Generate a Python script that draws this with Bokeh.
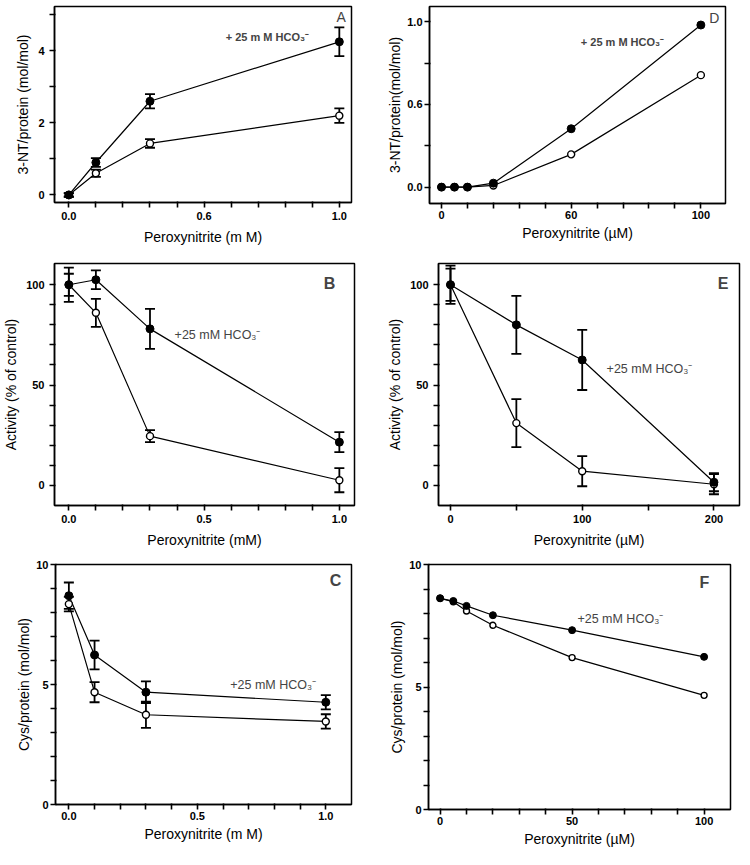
from bokeh.plotting import figure
from bokeh.models import Range1d, FixedTicker, Whisker, TeeHead, ColumnDataSource, Label
from bokeh.layouts import column, row
from bokeh.embed import file_html
from bokeh.resources import INLINE

# ---------------- data ----------------
# Panel A: 3-NT/protein vs peroxynitrite (mM)
A_x = [0.0, 0.1, 0.3, 1.0]
A_hco3 = [0.0, 0.9, 2.6, 4.25]
A_hco3_err = [0.05, 0.12, 0.2, 0.4]
A_ctrl = [0.0, 0.6, 1.43, 2.2]
A_ctrl_err = [0.05, 0.1, 0.12, 0.2]

# Panel D: 3-NT/protein vs peroxynitrite (uM)
D_x = [0, 5, 10, 20, 50, 100]
D_hco3 = [0.0, 0.0, 0.0, 0.024, 0.353, 0.98]
D_ctrl = [0.0, 0.0, 0.0, 0.01, 0.198, 0.677]

# Panel B: activity (% of control) vs peroxynitrite (mM)
B_x = [0.0, 0.1, 0.3, 1.0]
B_hco3 = [100, 102.5, 78, 21.5]
B_hco3_err = [5.5, 4.7, 10, 5]
B_ctrl = [100, 86, 24.5, 2.5]
B_ctrl_err = [8.5, 7, 3, 6]

# Panel E: activity (% of control) vs peroxynitrite (uM)
E_x = [0, 50, 100, 200]
E_hco3 = [100, 80, 62.5, 1.5]
E_hco3_err = [8, 14.5, 15, 4.5]
E_ctrl = [100, 31, 7, 0.5]
E_ctrl_err = [9.5, 12, 7.5, 5]

# Panel C: Cys/protein vs peroxynitrite (mM)
C_x = [0.0, 0.1, 0.3, 1.0]
C_hco3 = [8.7, 6.23, 4.68, 4.26]
C_hco3_err = [0.55, 0.6, 0.45, 0.3]
C_ctrl = [8.35, 4.68, 3.74, 3.46]
C_ctrl_err = [0.3, 0.42, 0.55, 0.3]

# Panel F: Cys/protein vs peroxynitrite (uM)
F_x = [0, 5, 10, 20, 50, 100]
F_hco3 = [8.62, 8.51, 8.31, 7.93, 7.32, 6.23]
F_ctrl = [8.62, 8.48, 8.1, 7.52, 6.2, 4.66]

# tick positions and labels as printed
A_xticks = [0.0, 0.5, 1.0]
A_xtick_labels = ["0.0", "0.6", "1.0"]
A_yticks = [0, 2, 4]
A_ytick_labels = ["0", "2", "4"]
D_xticks = [0, 50, 100]
D_xtick_labels = ["0", "60", "100"]
D_yticks = [0.0, 0.5, 1.0]
D_ytick_labels = ["0.0", "0.6", "1.0"]
B_xticks = [0.0, 0.5, 1.0]
B_xtick_labels = ["0.0", "0.5", "1.0"]
B_yticks = [0, 50, 100]
B_ytick_labels = ["0", "50", "100"]
E_xticks = [0, 100, 200]
E_xtick_labels = ["0", "100", "200"]
C_xticks = [0.0, 0.5, 1.0]
C_xtick_labels = ["0.0", "0.5", "1.0"]
C_yticks = [0, 5, 10]
C_ytick_labels = ["0", "5", "10"]
F_xticks = [0, 50, 100]
F_xtick_labels = ["0", "50", "100"]

ANN = "HCO\u2083\u207b"
FONT = "Liberation Sans"


def make_panel(x, yh, eh, yc, ec, xr, yr, xt, xlabels, xminor, yt, ylabels, yminor,
               xlab, ylab, borders, frame, letter, letter_xy, letter_style, ann, ann_xy,
               ann_style, marker_size=8, tight=False):
    bl, br, bt, bb = borders
    p = figure(frame_width=frame[0], frame_height=frame[1], output_backend="svg",
               toolbar_location=None, x_range=Range1d(*xr), y_range=Range1d(*yr),
               min_border_left=bl, min_border_right=br, min_border_top=bt,
               min_border_bottom=bb)
    p.xgrid.visible = False
    p.ygrid.visible = False
    p.outline_line_color = "black"
    p.outline_line_width = 1.5
    p.background_fill_color = "white"
    p.border_fill_color = "white"
    p.xaxis.ticker = FixedTicker(ticks=list(xt), minor_ticks=list(xminor))
    p.yaxis.ticker = FixedTicker(ticks=list(yt), minor_ticks=list(yminor))
    p.xaxis.major_label_overrides = {t: l for t, l in zip(xt, xlabels)}
    p.yaxis.major_label_overrides = {t: l for t, l in zip(yt, ylabels)}
    for ax in (p.xaxis[0], p.yaxis[0]):
        ax.axis_line_width = 1.5
        ax.axis_line_color = "black"
        ax.major_tick_in = 1
        ax.major_tick_out = 5
        ax.minor_tick_in = 1
        ax.minor_tick_out = 5
        ax.major_tick_line_width = 1.6
        ax.minor_tick_line_width = 1.6
        ax.major_tick_line_color = "#000000"
        ax.minor_tick_line_color = "#000000"
        ax.major_tick_line_alpha = 1.0
        ax.minor_tick_line_alpha = 1.0
        ax.major_label_text_font = FONT
        ax.major_label_text_font_style = "bold"
        ax.major_label_text_font_size = "11px"
        ax.major_label_text_color = "black"
        ax.axis_label_text_font = FONT
        ax.axis_label_text_font_style = "normal"
        ax.axis_label_text_font_size = "14px"
        ax.axis_label_text_color = "black"
    xa, ya = p.xaxis[0], p.yaxis[0]
    if tight:
        xa.major_label_standoff = 2
        xa.axis_label_standoff = 3
        ya.major_label_standoff = 2
        ya.axis_label_standoff = 1
    else:
        xa.major_label_standoff = 4
        xa.axis_label_standoff = 6
        ya.major_label_standoff = 5
        ya.axis_label_standoff = 4
    xa.axis_label = xlab
    ya.axis_label = ylab

    p.line(x, yc, line_color="black", line_width=1.2)
    p.line(x, yh, line_color="black", line_width=1.2)
    for yy, ee in ((yc, ec), (yh, eh)):
        if ee is None:
            continue
        src = ColumnDataSource(dict(x=x, upper=[a + b for a, b in zip(yy, ee)],
                                    lower=[a - b for a, b in zip(yy, ee)]))
        w = Whisker(source=src, base="x", upper="upper", lower="lower",
                    line_width=1.8, line_color="black",
                    upper_head=TeeHead(size=10, line_width=1.8, line_color="black"),
                    lower_head=TeeHead(size=10, line_width=1.8, line_color="black"))
        p.add_layout(w)
    p.scatter(x, yc, marker="circle", size=marker_size - 1, fill_color="white",
              line_color="black", line_width=1.4)
    p.scatter(x, yh, marker="circle", size=marker_size, fill_color="black",
              line_color="black")

    p.add_layout(Label(x=letter_xy[0], y=letter_xy[1], text=letter, text_align="center",
                       text_baseline="middle", text_font=FONT,
                       text_font_size=letter_style[0], text_font_style=letter_style[1]))
    p.add_layout(Label(x=ann_xy[0], y=ann_xy[1], text=ann, text_align="left",
                       text_baseline="middle", text_font=FONT,
                       text_font_size=ann_style[0], text_font_style=ann_style[1]))
    return p


MINOR_01 = [0.1, 0.2, 0.3, 0.4, 0.6, 0.7, 0.8, 0.9]
MINOR_10 = [10, 20, 30, 40, 60, 70, 80, 90]
MINOR_1 = [1, 2, 3, 4, 6, 7, 8, 9]

pA = make_panel(A_x, A_hco3, A_hco3_err, A_ctrl, A_ctrl_err,
                (-0.053, 1.045), (-0.21, 5.23), A_xticks, A_xtick_labels, MINOR_01,
                A_yticks, A_ytick_labels, [1, 3, 5],
                "Peroxynitrite (m M)", "3-NT/protein (mol/mol)",
                (54, 33, 6, 52), (297, 196), "A", (1.007, 4.93), ("14px", "normal"),
                "+ 25 m M " + ANN, (0.58, 4.38), ("11px", "bold"))

pD = make_panel(D_x, D_hco3, None, D_ctrl, None,
                (-4.63, 109.5), (-0.099, 1.092), D_xticks, D_xtick_labels, MINOR_10,
                D_yticks, D_ytick_labels, [0.25, 0.75],
                "Peroxynitrite (\u00b5M)", "3-NT/protein(mol/mol)",
                (45, 9, 4, 53), (296, 197), "D", (105.2, 1.024), ("14px", "normal"),
                "+ 25 m M " + ANN, (53.7, 0.879), ("11px", "bold"), tight=True)

pB = make_panel(B_x, B_hco3, B_hco3_err, B_ctrl, B_ctrl_err,
                (-0.053, 1.056), (-10.1, 110.6), B_xticks, B_xtick_labels, MINOR_01,
                B_yticks, B_ytick_labels, MINOR_10,
                "Peroxynitrite (mM)", "Activity (% of control)",
                (54, 30, 9, 49), (300, 242), "B", (0.964, 100.6), ("16px", "bold"),
                "+25 mM " + ANN, (0.391, 74.7), ("12.5px", "normal"))

pE = make_panel(E_x, E_hco3, E_hco3_err, E_ctrl, E_ctrl_err,
                (-9.1, 219.4), (-10.1, 110.6), E_xticks, E_xtick_labels, [50, 150],
                B_yticks, B_ytick_labels, MINOR_10,
                "Peroxynitrite (\u00b5M)", "Activity (% of control)",
                (45, 4, 9, 49), (301, 242), "E", (207, 100.6), ("16px", "bold"),
                "+25 mM " + ANN, (118.5, 57.9), ("12.5px", "normal"))

pC = make_panel(C_x, C_hco3, C_hco3_err, C_ctrl, C_ctrl_err,
                (-0.052, 1.10), (0, 10), C_xticks, C_xtick_labels, MINOR_01,
                C_yticks, C_ytick_labels, MINOR_1,
                "Peroxynitrite (m M)", "Cys/protein (mol/mol)",
                (55, 33, 10, 45), (296, 240), "C", (1.038, 9.33), ("16px", "bold"),
                "+25 mM " + ANN, (0.628, 5.0), ("12.5px", "normal"), tight=True)

pF = make_panel(F_x, F_hco3, None, F_ctrl, None,
                (-4.4, 110), (0, 10), F_xticks, F_xtick_labels, MINOR_10,
                C_yticks, C_ytick_labels, MINOR_1,
                "Peroxynitrite (\u00b5M)", "Cys/protein (mol/mol)",
                (44, 4, 10, 40), (302, 245), "F", (100.1, 9.27), ("16px", "bold"),
                "+25 mM " + ANN, (52, 7.76), ("12.5px", "normal"), marker_size=7,
                tight=True)

layout = column(row(pA, pD), row(pB, pE), row(pC, pF))
open("out.html", "w").write(file_html(layout, INLINE))
